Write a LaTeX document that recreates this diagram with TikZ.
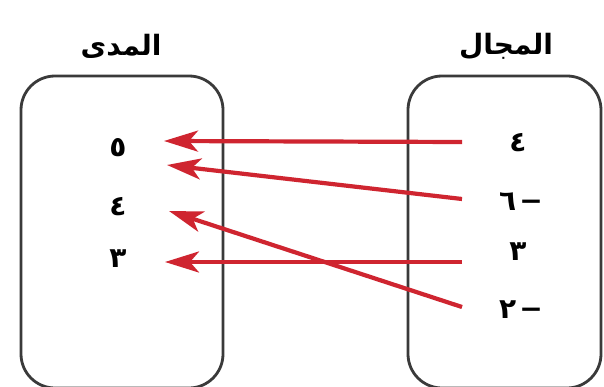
\documentclass[tikz,border=0pt]{standalone}
\usepackage{fontspec}
\newfontfamily\arabicfont[Script=Arabic]{DejaVu Sans}
\TeXXeTstate=1
\usetikzlibrary{arrows.meta}
\definecolor{arrred}{HTML}{CF2530}
\definecolor{boxgray}{HTML}{3A3A3A}
\tikzset{
  setbox/.style={draw=boxgray, line width=2.8pt, rounded corners=34pt},
  num/.style={font=\arabicfont\bfseries\fontsize{28}{28}\selectfont, inner sep=0pt},
  head/.style={font=\arabicfont\bfseries\fontsize{28}{28}\selectfont, inner sep=0pt},
  maparrow/.style={draw=arrred, line width=4.2pt, -{Stealth[length=34pt,width=21pt,inset=9pt]}}
}
\begin{document}
\begin{tikzpicture}[x=1pt,y=-1pt]
\useasboundingbox (0,0) rectangle (604,387);
\fill[white] (0,0) rectangle (604,387);
% boxes
\draw[setbox] (21,76) rectangle (223,388);
\draw[setbox] (408,76) rectangle (601,388);
% headings
\node[head] (hrange) at (121,46) {\beginR المدى\endR};
\node[head] (hdomain) at (506,46) {\beginR المجال\endR};
% range values
\node[num] (r5) at (118,148) {٥};
\node[num] (r4) at (118,207) {٤};
\node[num] (r3) at (118,259) {٣};
% domain values
\node[num] (d4) at (518,143) {٤};
\node[num] (dm6) at (521,202) {٦\kern3pt−};
\node[num] (d3) at (518,252) {٣};
\node[num] (dm2) at (521,310) {٢\kern3pt−};
% arrow endpoints
\coordinate (s1) at (462,142);
\coordinate (s2) at (462,199);
\coordinate (s3) at (462,262);
\coordinate (s4) at (462,307);
\coordinate (e1) at (164,141);
\coordinate (e2) at (167,165);
\coordinate (e3) at (165,262);
\coordinate (e4) at (169,211);
\draw[maparrow] (s1) -- (e1);
\draw[maparrow] (s2) -- (e2);
\draw[maparrow] (s3) -- (e3);
\draw[maparrow] (s4) -- (e4);
\end{tikzpicture}
\end{document}
